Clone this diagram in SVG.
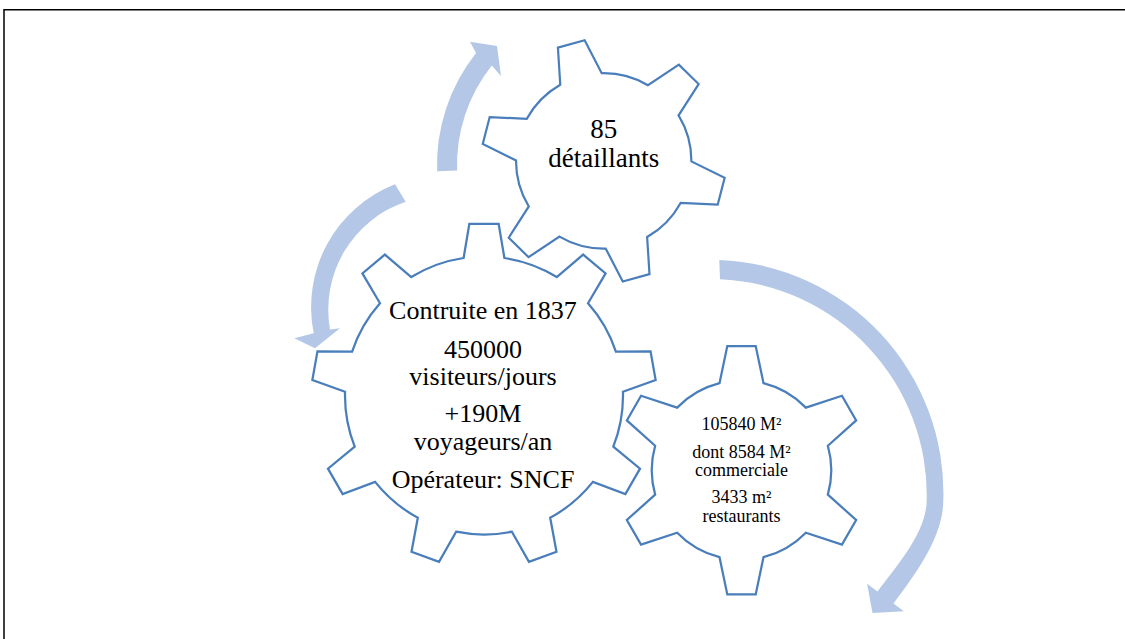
<svg xmlns="http://www.w3.org/2000/svg" width="1125" height="639" viewBox="0 0 1125 639">
<defs>
<style>
.gear{fill:none;stroke:#4A7EBB;stroke-width:2.25;stroke-linejoin:miter}
.arrow{fill:#B4C7E7;stroke:none}
.t{font-family:"Liberation Serif","Times New Roman",serif;fill:#000;text-anchor:middle}
</style>
<path id="gear6" d="M -22,-87 L -14.2,-124.2 L 14.2,-124.2 L 22,-87 A 89.74 89.74 0 0 1 64.34,-62.55 L 100.46,-74.4 L 114.66,-49.8 L 86.34,-24.45 A 89.74 89.74 0 0 1 86.34,24.45 L 114.66,49.8 L 100.46,74.4 L 64.34,62.55 A 89.74 89.74 0 0 1 22,87 L 14.2,124.2 L -14.2,124.2 L -22,87 A 89.74 89.74 0 0 1 -64.34,62.55 L -100.46,74.4 L -114.66,49.8 L -86.34,24.45 A 89.74 89.74 0 0 1 -86.34,-24.45 L -114.66,-49.8 L -100.46,-74.4 L -64.34,-62.55 A 89.74 89.74 0 0 1 -22,-87 Z"/>
</defs>
<rect x="4" y="9.75" width="1200" height="700" fill="none" stroke="#000" stroke-width="1.5"/>
<g id="connectors">
<path class="arrow" d="M 437.1,171.3 A 180 180 0 0 1 476.1,53 L 470,41.7 L 497,46 L 501,76 L 491.8,65.4 A 160 160 0 0 0 457.1,170.6 Z"/>
<path class="arrow" d="M 395,184.3 A 132 132 0 0 0 313.7,333.3 L 294.3,338.3 L 315,348.3 L 340,328.3 L 330,329.5 A 114 114 0 0 1 405.7,201.7 Z"/>
<path class="arrow" d="M 719.3,260 A 233 233 0 0 1 943.3,500 C 943.3,537 915.7,573.9 893.5,603.5 L 903.9,611.3 L 872.5,613 L 867.1,583.7 L 877.5,591.5 C 896.7,565.9 926.7,532 926.7,500 A 216 216 0 0 0 720,279.3 Z"/>
</g>
<g id="gear1">
<path class="gear" transform="translate(484,395.5)" d="M -20.4,-137.5 L -14.65,-171.7 L 14.65,-171.7 L 20.4,-137.5 A 139 139 0 0 1 72.76,-118.44 L 99.15,-140.95 L 121.59,-122.11 L 104.01,-92.22 A 139 139 0 0 1 131.87,-43.97 L 166.55,-44.24 L 171.64,-15.39 L 138.95,-3.79 A 139 139 0 0 1 129.28,51.08 L 156.02,73.16 L 141.37,98.54 L 108.88,86.42 A 139 139 0 0 1 66.2,122.23 L 72.49,156.33 L 44.96,166.36 L 27.86,136.18 A 139 139 0 0 1 -27.86,136.18 L -44.96,166.36 L -72.49,156.33 L -66.2,122.23 A 139 139 0 0 1 -108.88,86.42 L -141.37,98.54 L -156.02,73.16 L -129.28,51.08 A 139 139 0 0 1 -138.95,-3.79 L -171.64,-15.39 L -166.55,-44.24 L -131.87,-43.97 A 139 139 0 0 1 -104.01,-92.22 L -121.59,-122.11 L -99.15,-140.95 L -72.76,-118.44 A 139 139 0 0 1 -20.4,-137.5 Z"/>
<text class="t" font-size="26" x="483" y="319.3">Contruite en 1837</text>
<text class="t" font-size="26" x="483" y="358.3">450000</text>
<text class="t" font-size="26" x="483" y="385">visiteurs/jours</text>
<text class="t" font-size="26" x="483" y="422.3">+190M</text>
<text class="t" font-size="26" x="483" y="450">voyageurs/an</text>
<text class="t" font-size="26" x="483" y="487.7">Opérateur: SNCF</text>
</g>
<g id="gear2">
<use href="#gear6" class="gear" transform="translate(603.7,160.9) rotate(-15.5) scale(0.977)"/>
<text class="t" font-size="27" x="603.7" y="138.3">85</text>
<text class="t" font-size="27" x="603.7" y="167.3">détaillants</text>
</g>
<g id="gear3">
<use href="#gear6" class="gear" transform="translate(741.5,470.2)"/>
<text class="t" font-size="18" x="741.5" y="430">105840 M²</text>
<text class="t" font-size="18" x="741.5" y="457.7">dont 8584 M²</text>
<text class="t" font-size="18" x="741.5" y="475.7">commerciale</text>
<text class="t" font-size="18" x="741.5" y="503.3">3433 m²</text>
<text class="t" font-size="18" x="741.5" y="521.7">restaurants</text>
</g>
</svg>
